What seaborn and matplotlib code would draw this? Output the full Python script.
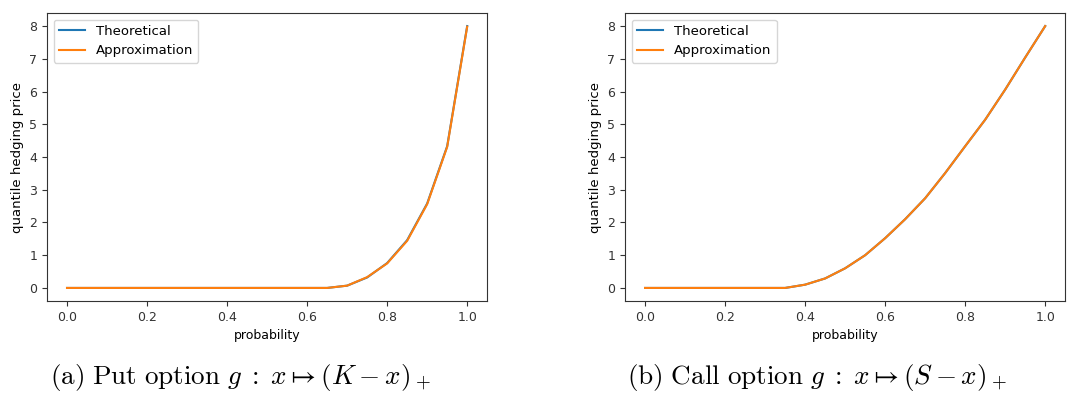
import numpy as np
import pandas as pd
import seaborn as sns
import matplotlib
matplotlib.use("Agg")
from matplotlib import pyplot as plt

# probability grid (21 points, step 0.05)
prob = [0.0, 0.05, 0.1, 0.15, 0.2, 0.25, 0.3, 0.35, 0.4, 0.45, 0.5,
        0.55, 0.6, 0.65, 0.7, 0.75, 0.8, 0.85, 0.9, 0.95, 1.0]

# put option: quantile hedging price
put_theoretical = [0, 0, 0, 0, 0, 0, 0, 0, 0, 0, 0,
                   0, 0, 0, 0.07, 0.32, 0.76, 1.46, 2.58, 4.33, 8.0]
put_approx = [0, 0, 0, 0, 0, 0, 0, 0, 0, 0, 0,
              0, 0, 0, 0.07, 0.33, 0.75, 1.44, 2.56, 4.31, 7.98]

# call option: quantile hedging price
call_theoretical = [0, 0, 0, 0, 0, 0, 0, 0, 0.1, 0.29, 0.6,
                    1.0, 1.52, 2.1, 2.74, 3.51, 4.33, 5.14, 6.06, 7.04, 8.0]
call_approx = [0, 0, 0, 0, 0, 0, 0, 0, 0.1, 0.29, 0.6,
               1.0, 1.52, 2.1, 2.74, 3.51, 4.33, 5.14, 6.06, 7.04, 8.0]

captions = [r'$\mathrm{(a)\ Put\ option}\ g\;:\;x \mapsto (K - x)_+$',
            r'$\mathrm{(b)\ Call\ option}\ g\;:\;x \mapsto (S - x)_+$']
caption_x = [0.047, 0.585]

plt.rcParams['mathtext.fontset'] = 'cm'

fig = plt.figure(figsize=(10.71, 3.93), dpi=100)
ax1 = fig.add_axes([0.0439, 0.234, 0.411, 0.733])
ax2 = fig.add_axes([0.5836, 0.234, 0.411, 0.733])

panels = [(ax1, put_theoretical, put_approx), (ax2, call_theoretical, call_approx)]
for i, (ax, theo, approx) in enumerate(panels):
    df = pd.DataFrame({'probability': prob, 'Theoretical': theo, 'Approximation': approx})
    sns.lineplot(data=df, x='probability', y='Theoretical', ax=ax,
                 color='tab:blue', label='Theoretical', linewidth=1.5)
    sns.lineplot(data=df, x='probability', y='Approximation', ax=ax,
                 color='tab:orange', label='Approximation', linewidth=1.5)
    ax.set_xticks([0.0, 0.2, 0.4, 0.6, 0.8, 1.0])
    ax.set_yticks(range(0, 9))
    ax.tick_params(labelsize=9, colors='#333333')
    ax.set_xlabel('probability', fontsize=9)
    ax.set_ylabel('quantile hedging price', fontsize=9.5)
    for s in ax.spines.values():
        s.set_color('#333333')
    ax.legend(loc='upper left', fontsize=9.5)
    fig.text(caption_x[i], 0.04, captions[i], fontsize=19.5,
             ha='left', va='center')

fig.savefig('out.png', dpi=100)
